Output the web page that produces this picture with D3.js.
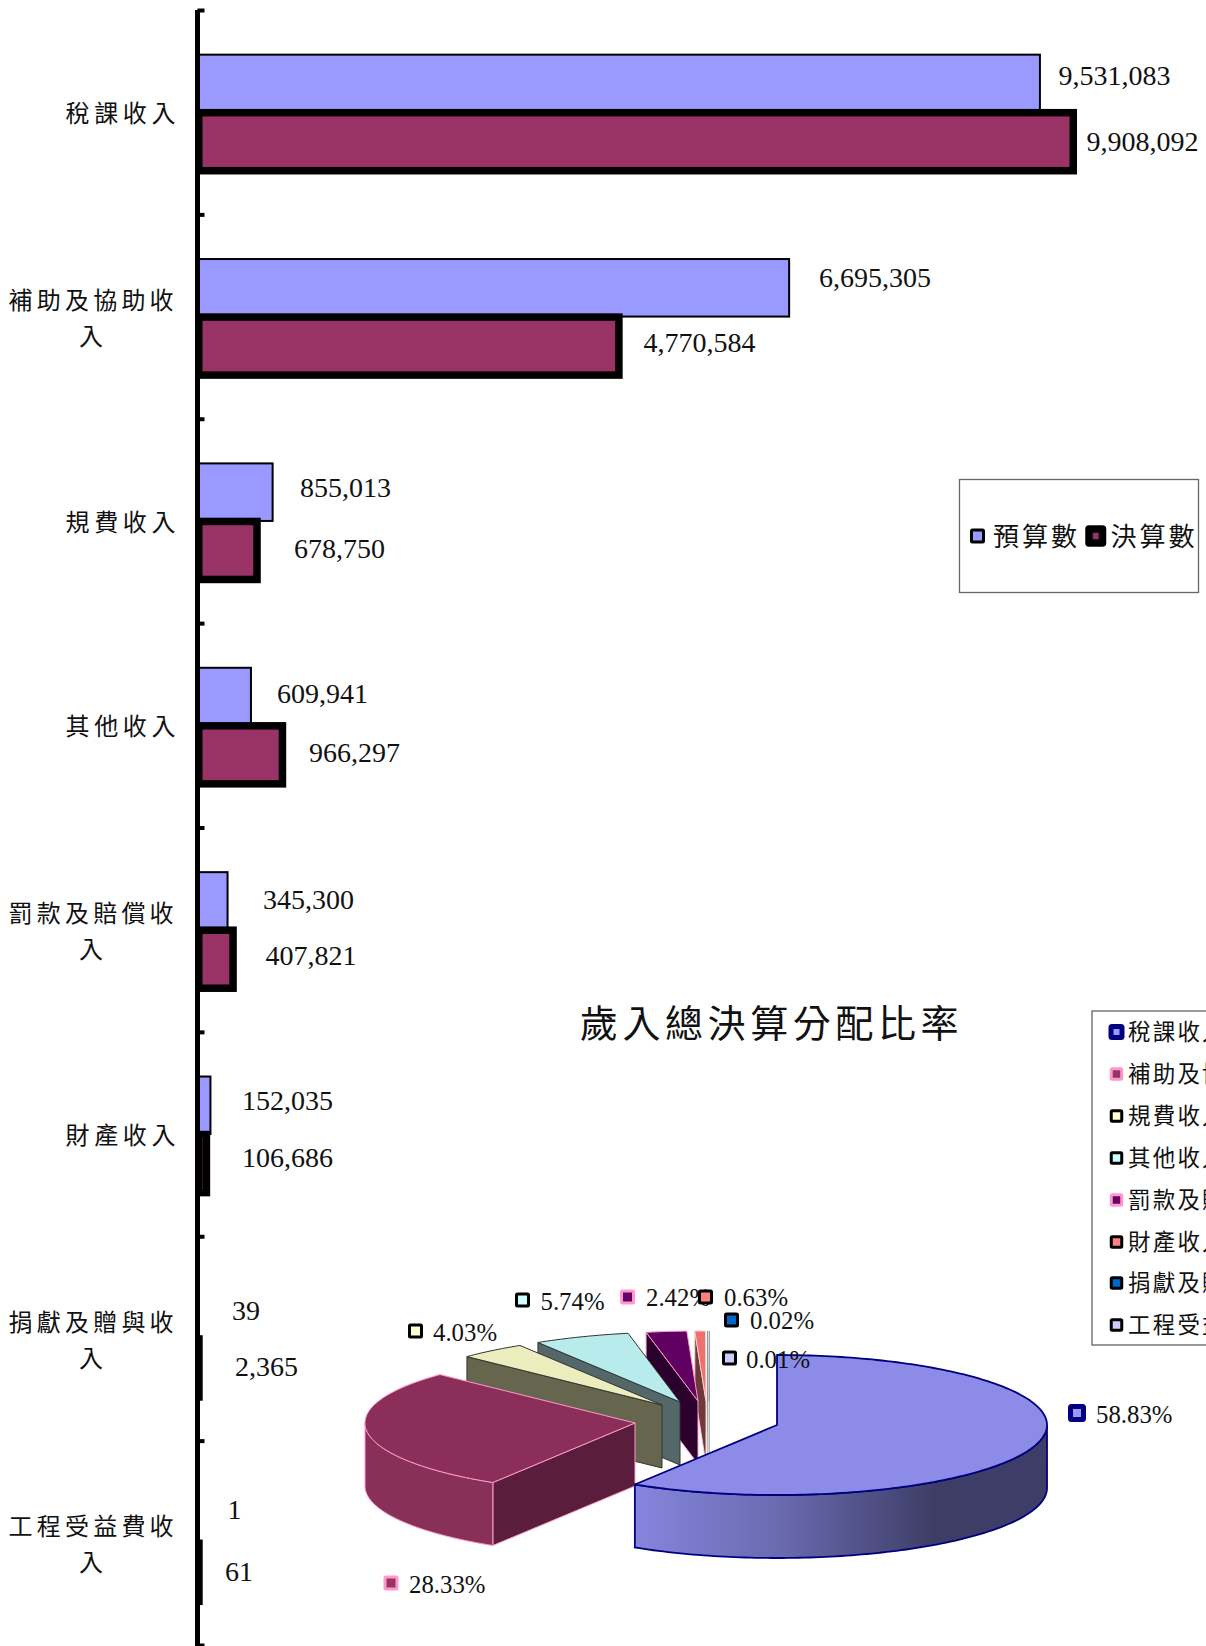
<!DOCTYPE html>
<html><head><meta charset="utf-8">
<script src="https://cdn.jsdelivr.net/npm/d3@7"></script>
<style>
html,body{margin:0;padding:0;background:#fff;overflow:hidden}
svg{display:block}
.cjk{font-family:"Noto Sans CJK TC","Noto Sans CJK SC",sans-serif;fill:#111}
.num{font-family:"Liberation Serif",serif;fill:#111}
</style></head><body>
<svg id="c" width="1206" height="1646"></svg>
<script>
// ---------- data ----------
const categories = ["稅課收入","補助及協助收入","規費收入","其他收入","罰款及賠償收入","財產收入","捐獻及贈與收入","工程受益費收入"];
const seriesNames = ["預算數","決算數"];
const budget = [9531083,6695305,855013,609941,345300,152035,39,1];
const actual = [9908092,4770584,678750,966297,407821,106686,2365,61];
const pieShares = [58.83,28.33,4.03,5.74,2.42,0.63,0.02,0.01];
const pieTitle = "歲入總決算分配比率";

// ---------- layout (separate from values) ----------
const budgetLabelPos = [[1058.5,75],[819,277],[300,487],[277,693],[263,899],[242,1100],[232,1310],[227.5,1509]];
const actualLabelPos = [[1086.5,141],[643.5,342],[294,548],[309,752],[265.5,955],[242,1157],[235,1366],[225,1571]];
const sliceCentres = [[777,1425],[635,1423],[662,1405],[680,1402],[698,1401],[706,1401],[708,1401],[709.5,1401]];
const pieMarkerPos = [[1077,1413],[391,1583],[415.5,1331],[522.5,1300],[627.5,1297],[705.5,1297],[731.5,1320],[729.5,1358]];
const pieTextPos = [[1096,1415],[409,1585],[433,1333],[540.5,1302],[646,1298],[724,1298],[750,1321],[746,1359.5]];
const pieLegendY = [1032,1074,1116,1158,1200,1242,1283,1325];
const pieRx = 270, pieRy = 70, pieDepth = 63;

// ---------- styles ----------
const barFill = ["#9999ff","#993366"];
const markerFill = ["#9999ff","#993366","#ffffcc","#ccffff","#660066","#ff8080","#0066cc","#ccccff"];
const markerStroke = ["#000080","#ff99cc","#000","#000","#ff99cc","#000","#000","#000"];
const topFill = ["#8c8ce8","#8c2e5a","#ecedbc","#b8ecec","#600060","#f0706e","#0058b0","#b0b0e0"];
const faceFill = ["#3c3c66","#5a1e3c","#66664e","#54686a","#2c002c","#703838","#003060","#707088"];
const wallFill = ["url(#blueWall)","#893058","#66664e","#54686a","#2c002c","#703838","#003060","#707088"];
const edgeStroke = ["#000080","#ff99cc","#333","#333","#ff99cc","#f3d0d0","#999","#999"];
const edgeWidth = [1.8,1,1,1,1,1,0.5,0.5];

const svg = d3.select("#c");
const defs = svg.append("defs");
const grad = defs.append("linearGradient").attr("id","blueWall").attr("gradientUnits","userSpaceOnUse")
  .attr("x1",635).attr("x2",1047).attr("y1",0).attr("y2",0);
[[0,"#8585de"],[0.35,"#6a6ab0"],[0.73,"#3d3d66"],[1,"#3d3d68"]].forEach(s=>grad.append("stop").attr("offset",s[0]).attr("stop-color",s[1]));

// ---------- bar chart ----------
const y0 = d3.scaleBand().domain(categories).range([10,1645]).paddingInner(0.437).paddingOuter(0.2185);
const y1 = d3.scaleBand().domain(seriesNames).range([0,y0.bandwidth()]);
const x = d3.scaleLinear().domain([0,10000000]).range([197,197+884.4]);
const actualInset = 1.75; // keeps the heavy outline from poking left of the axis

const rows = categories.map((c,i)=>({c,i}));
const gBudget = svg.append("g");
gBudget.selectAll("rect").data(rows).join("rect")
  .attr("x",x(0)).attr("y",d=>y0(d.c)+y1(seriesNames[0]))
  .attr("width",d=>x(budget[d.i])-x(0)).attr("height",y1.bandwidth())
  .attr("fill",barFill[0]).attr("stroke","#000").attr("stroke-width",2);
const gActual = svg.append("g");
gActual.selectAll("rect").data(rows).join("rect")
  .attr("x",x(0)+actualInset).attr("y",d=>y0(d.c)+y1(seriesNames[1])+0.5)
  .attr("width",d=>Math.max(0.2,x(actual[d.i])-x(0)-actualInset)).attr("height",y1.bandwidth()+0.5)
  .attr("fill",barFill[1]).attr("stroke","#000").attr("stroke-width",7.5);

// category axis: ticks at band boundaries, drawn to the right
const tickScale = d3.scaleLinear().domain([0,categories.length]).range([10,1645]);
const axis = svg.append("g").attr("transform","translate(197.5,0)")
  .call(d3.axisRight(tickScale).tickValues(d3.range(categories.length+1)).tickSize(7).tickSizeOuter(0).tickFormat(""));
axis.select(".domain").attr("stroke","#000").attr("stroke-width",5).attr("d","M0,10V1646");
axis.selectAll(".tick line").attr("stroke","#000").attr("stroke-width",4);

// category labels
rows.forEach(d=>{
  const cy = y0(d.c)+y0.bandwidth()/2;
  if(d.c.length<=4){
    svg.append("text").attr("class","cjk").attr("x",180).attr("y",cy+1).attr("dy",".36em")
      .attr("text-anchor","end").attr("font-size",24).attr("letter-spacing",4.6).text(d.c);
  } else {
    [d.c.slice(0,6),d.c.slice(6)].forEach((t,k)=>{
      svg.append("text").attr("class","cjk").attr("x",93.2).attr("y",cy+(k?20:-16.5)).attr("dy",".36em")
        .attr("text-anchor","middle").attr("font-size",24).attr("letter-spacing",4.2).text(t);
    });
  }
});

// value labels
const fmt = d3.format(",");
[[budget,budgetLabelPos],[actual,actualLabelPos]].forEach(([vals,pos])=>{
  svg.append("g").selectAll("text").data(vals).join("text").attr("class","num")
    .attr("x",(d,i)=>pos[i][0]).attr("y",(d,i)=>pos[i][1]).attr("dy",".34em")
    .attr("font-size",28).text(d=>fmt(d));
});

// series legend
svg.append("rect").attr("x",959.5).attr("y",479.5).attr("width",239).attr("height",113)
  .attr("fill","#fff").attr("stroke","#666").attr("stroke-width",1.3);
svg.append("rect").attr("x",971.5).attr("y",530).attr("width",12).attr("height",12)
  .attr("fill",barFill[0]).attr("stroke","#000").attr("stroke-width",3).attr("rx",1);
svg.append("rect").attr("x",1089).attr("y",529).attr("width",13.5).attr("height",14)
  .attr("fill",barFill[1]).attr("stroke","#000").attr("stroke-width",7.5).attr("stroke-linejoin","round");
[[seriesNames[0],993],[seriesNames[1],1110.5]].forEach(([t,px])=>{
  svg.append("text").attr("class","cjk").attr("x",px).attr("y",536.5).attr("dy",".36em")
    .attr("font-size",26).attr("letter-spacing",3).text(t);
});

// ---------- pie ----------
const arcs = d3.pie().sort(null).value(d=>d)(pieShares);
const rim = (a,c,dz=0)=>[c[0]+pieRx*Math.sin(a), c[1]-pieRy*Math.cos(a)+dz];
const line = d3.line();
const sweep = (a,b)=>{const n=Math.max(2,Math.ceil((b-a)/0.02));return d3.range(n+1).map(i=>a+(b-a)*i/n);};
const gPie = svg.append("g");
arcs.slice().reverse().forEach(arc=>{
  const i = arc.index, c = sliceCentres[i];
  const s = arc.startAngle, e = arc.endAngle;
  const stroke = edgeStroke[i], sw = edgeWidth[i];
  // cut face along the start edge
  if(s>Math.PI){
    const p = rim(s,c);
    gPie.append("path").attr("d",line([c,p,[p[0],p[1]+pieDepth],[c[0],c[1]+pieDepth]])+"Z")
      .attr("fill",faceFill[i]).attr("stroke",stroke).attr("stroke-width",sw);
  }
  // curved outer wall (front half only)
  const wa = Math.max(s,Math.PI/2), wb = Math.min(e,3*Math.PI/2);
  if(wb>wa){
    const as = sweep(wa,wb);
    const pts = as.map(a=>rim(a,c)).concat(as.slice().reverse().map(a=>rim(a,c,pieDepth)));
    gPie.append("path").attr("d",line(pts)+"Z").attr("fill",wallFill[i]).attr("stroke",stroke).attr("stroke-width",sw);
  }
  // top surface
  const top = [c].concat(sweep(s,e).map(a=>rim(a,c)));
  gPie.append("path").attr("d",line(top)+"Z").attr("fill",topFill[i]).attr("stroke",stroke).attr("stroke-width",sw).attr("stroke-linejoin","round");
});

// pie data labels
pieShares.forEach((v,i)=>{
  const big = i===0, m = pieMarkerPos[i], t = pieTextPos[i];
  const size = big?13:12, w = big?5:3;
  svg.append("rect").attr("x",m[0]-size/2).attr("y",m[1]-size/2).attr("width",size).attr("height",size)
    .attr("fill",markerFill[i]).attr("stroke",markerStroke[i]).attr("stroke-width",w).attr("rx",1);
  svg.append("text").attr("class","num").attr("x",t[0]).attr("y",t[1]).attr("dy",".34em")
    .attr("font-size",24.8).text(v.toFixed(2)+"%");
});

// pie title
svg.append("text").attr("class","cjk").attr("x",771.5).attr("y",1023).attr("dy",".36em")
  .attr("text-anchor","middle").attr("font-size",38).attr("letter-spacing",4.6).text(pieTitle);

// pie legend
svg.append("rect").attr("x",1092).attr("y",1011).attr("width",140).attr("height",334)
  .attr("fill","#fff").attr("stroke","#555").attr("stroke-width",1.2);
categories.forEach((c,i)=>{
  const y = pieLegendY[i], big = i===0, size = big?11:10.5, w = big?5:3;
  svg.append("rect").attr("x",1116.5-size/2).attr("y",y-size/2).attr("width",size).attr("height",size)
    .attr("fill",markerFill[i]).attr("stroke",markerStroke[i]).attr("stroke-width",w).attr("rx",1);
  svg.append("text").attr("class","cjk").attr("x",1128).attr("y",y-0.5).attr("dy",".36em")
    .attr("font-size",22.5).attr("letter-spacing",2.2).text(c);
});
</script>
</body></html>
